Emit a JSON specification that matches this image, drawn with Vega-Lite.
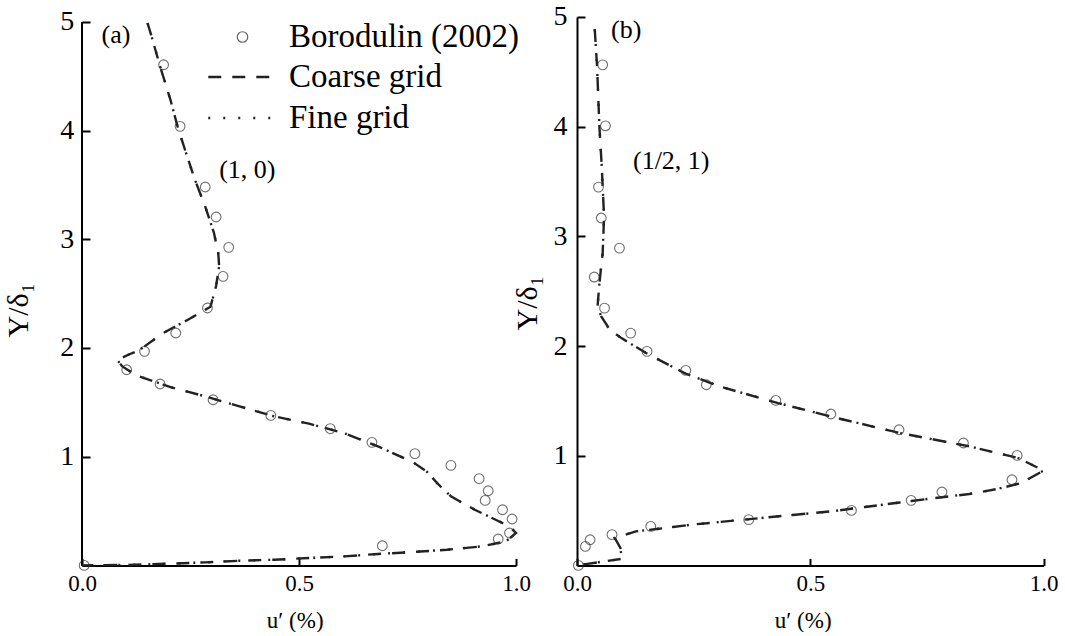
{
  "$schema": "https://vega.github.io/schema/vega-lite/v6.json",
  "padding": {"left": 3, "top": 3, "right": 0, "bottom": 0},
  "background": "white",
  "spacing": 61,
  "bounds": "flush",
  "datasets": {
    "ptsA": [
      {"u":0.188,"Y":4.606},{"u":0.226,"Y":4.039},{"u":0.284,"Y":3.481},{"u":0.309,"Y":3.205},
      {"u":0.338,"Y":2.926},{"u":0.325,"Y":2.659},{"u":0.289,"Y":2.368},{"u":0.216,"Y":2.138},
      {"u":0.144,"Y":1.969},{"u":0.103,"Y":1.800},{"u":0.180,"Y":1.669},{"u":0.302,"Y":1.524},
      {"u":0.435,"Y":1.380},{"u":0.572,"Y":1.258},{"u":0.668,"Y":1.132},{"u":0.767,"Y":1.028},
      {"u":0.850,"Y":0.920},{"u":0.915,"Y":0.798},{"u":0.936,"Y":0.687},{"u":0.929,"Y":0.598},
      {"u":0.969,"Y":0.512},{"u":0.991,"Y":0.427},{"u":0.985,"Y":0.298},{"u":0.959,"Y":0.243},
      {"u":0.692,"Y":0.181},{"u":0.005,"Y":0.0}
    ],
    "lnA": [
      {"series":"Coarse grid","i":0,"u":0.151,"Y":4.99},{"series":"Coarse grid","i":1,"u":0.160,"Y":4.87},
      {"series":"Coarse grid","i":2,"u":0.180,"Y":4.59},{"series":"Coarse grid","i":3,"u":0.204,"Y":4.28},
      {"series":"Coarse grid","i":4,"u":0.220,"Y":4.04},{"series":"Coarse grid","i":5,"u":0.240,"Y":3.79},
      {"series":"Coarse grid","i":6,"u":0.260,"Y":3.55},{"series":"Coarse grid","i":7,"u":0.284,"Y":3.30},
      {"series":"Coarse grid","i":8,"u":0.304,"Y":3.06},{"series":"Coarse grid","i":9,"u":0.314,"Y":2.87},
      {"series":"Coarse grid","i":10,"u":0.316,"Y":2.75},{"series":"Coarse grid","i":11,"u":0.309,"Y":2.57},
      {"series":"Coarse grid","i":12,"u":0.296,"Y":2.38},{"series":"Coarse grid","i":13,"u":0.244,"Y":2.26},
      {"series":"Coarse grid","i":14,"u":0.188,"Y":2.14},{"series":"Coarse grid","i":15,"u":0.132,"Y":1.98},
      {"series":"Coarse grid","i":16,"u":0.108,"Y":1.94},{"series":"Coarse grid","i":17,"u":0.081,"Y":1.89},
      {"series":"Coarse grid","i":18,"u":0.093,"Y":1.83},{"series":"Coarse grid","i":19,"u":0.124,"Y":1.75},
      {"series":"Coarse grid","i":20,"u":0.204,"Y":1.64},{"series":"Coarse grid","i":21,"u":0.284,"Y":1.555},
      {"series":"Coarse grid","i":22,"u":0.363,"Y":1.463},{"series":"Coarse grid","i":23,"u":0.443,"Y":1.371},
      {"series":"Coarse grid","i":24,"u":0.523,"Y":1.304},{"series":"Coarse grid","i":25,"u":0.603,"Y":1.218},
      {"series":"Coarse grid","i":26,"u":0.682,"Y":1.095},{"series":"Coarse grid","i":27,"u":0.762,"Y":0.951},
      {"series":"Coarse grid","i":28,"u":0.794,"Y":0.865},{"series":"Coarse grid","i":29,"u":0.818,"Y":0.758},
      {"series":"Coarse grid","i":30,"u":0.850,"Y":0.635},{"series":"Coarse grid","i":31,"u":0.905,"Y":0.512},
      {"series":"Coarse grid","i":32,"u":0.953,"Y":0.420},{"series":"Coarse grid","i":33,"u":0.985,"Y":0.359},
      {"series":"Coarse grid","i":34,"u":1.0,"Y":0.298},{"series":"Coarse grid","i":35,"u":0.977,"Y":0.221},
      {"series":"Coarse grid","i":36,"u":0.921,"Y":0.175},{"series":"Coarse grid","i":37,"u":0.841,"Y":0.144},
      {"series":"Coarse grid","i":38,"u":0.762,"Y":0.123},{"series":"Coarse grid","i":39,"u":0.682,"Y":0.105},
      {"series":"Coarse grid","i":40,"u":0.603,"Y":0.083},{"series":"Coarse grid","i":41,"u":0.523,"Y":0.068},
      {"series":"Coarse grid","i":42,"u":0.443,"Y":0.052},{"series":"Coarse grid","i":43,"u":0.363,"Y":0.043},
      {"series":"Coarse grid","i":44,"u":0.284,"Y":0.028},{"series":"Coarse grid","i":45,"u":0.204,"Y":0.016},
      {"series":"Coarse grid","i":46,"u":0.124,"Y":0.006},{"series":"Coarse grid","i":47,"u":0.0,"Y":0.0},
      {"series":"Fine grid","i":0,"u":0.151,"Y":4.99},{"series":"Fine grid","i":1,"u":0.160,"Y":4.87},
      {"series":"Fine grid","i":2,"u":0.180,"Y":4.59},{"series":"Fine grid","i":3,"u":0.204,"Y":4.28},
      {"series":"Fine grid","i":4,"u":0.220,"Y":4.04},{"series":"Fine grid","i":5,"u":0.240,"Y":3.79},
      {"series":"Fine grid","i":6,"u":0.260,"Y":3.55},{"series":"Fine grid","i":7,"u":0.284,"Y":3.30},
      {"series":"Fine grid","i":8,"u":0.304,"Y":3.06},{"series":"Fine grid","i":9,"u":0.314,"Y":2.87},
      {"series":"Fine grid","i":10,"u":0.316,"Y":2.75},{"series":"Fine grid","i":11,"u":0.309,"Y":2.57},
      {"series":"Fine grid","i":12,"u":0.296,"Y":2.38},{"series":"Fine grid","i":13,"u":0.244,"Y":2.26},
      {"series":"Fine grid","i":14,"u":0.188,"Y":2.14},{"series":"Fine grid","i":15,"u":0.132,"Y":1.98},
      {"series":"Fine grid","i":16,"u":0.108,"Y":1.94},{"series":"Fine grid","i":17,"u":0.081,"Y":1.89},
      {"series":"Fine grid","i":18,"u":0.093,"Y":1.83},{"series":"Fine grid","i":19,"u":0.124,"Y":1.75},
      {"series":"Fine grid","i":20,"u":0.204,"Y":1.64},{"series":"Fine grid","i":21,"u":0.284,"Y":1.555},
      {"series":"Fine grid","i":22,"u":0.363,"Y":1.463},{"series":"Fine grid","i":23,"u":0.443,"Y":1.371},
      {"series":"Fine grid","i":24,"u":0.523,"Y":1.304},{"series":"Fine grid","i":25,"u":0.603,"Y":1.218},
      {"series":"Fine grid","i":26,"u":0.682,"Y":1.095},{"series":"Fine grid","i":27,"u":0.762,"Y":0.951},
      {"series":"Fine grid","i":28,"u":0.794,"Y":0.865},{"series":"Fine grid","i":29,"u":0.818,"Y":0.758},
      {"series":"Fine grid","i":30,"u":0.850,"Y":0.635},{"series":"Fine grid","i":31,"u":0.905,"Y":0.512},
      {"series":"Fine grid","i":32,"u":0.953,"Y":0.420},{"series":"Fine grid","i":33,"u":0.985,"Y":0.359},
      {"series":"Fine grid","i":34,"u":1.0,"Y":0.298},{"series":"Fine grid","i":35,"u":0.977,"Y":0.221},
      {"series":"Fine grid","i":36,"u":0.921,"Y":0.175},{"series":"Fine grid","i":37,"u":0.841,"Y":0.144},
      {"series":"Fine grid","i":38,"u":0.762,"Y":0.123},{"series":"Fine grid","i":39,"u":0.682,"Y":0.105},
      {"series":"Fine grid","i":40,"u":0.603,"Y":0.083},{"series":"Fine grid","i":41,"u":0.523,"Y":0.068},
      {"series":"Fine grid","i":42,"u":0.443,"Y":0.052},{"series":"Fine grid","i":43,"u":0.363,"Y":0.043},
      {"series":"Fine grid","i":44,"u":0.284,"Y":0.028},{"series":"Fine grid","i":45,"u":0.204,"Y":0.016},
      {"series":"Fine grid","i":46,"u":0.124,"Y":0.006},{"series":"Fine grid","i":47,"u":0.0,"Y":0.0}
    ],
    "txtA": [{"u":0.045,"Y":4.882,"t":"(a)"},{"u":0.316,"Y":3.633,"t":"(1, 0)"}],
    "ptsB": [
      {"u":0.055,"Y":4.564},{"u":0.061,"Y":4.008},{"u":0.046,"Y":3.449},{"u":0.052,"Y":3.167},
      {"u":0.091,"Y":2.893},{"u":0.037,"Y":2.629},{"u":0.059,"Y":2.346},{"u":0.115,"Y":2.118},
      {"u":0.150,"Y":1.951},{"u":0.233,"Y":1.778},{"u":0.277,"Y":1.647},{"u":0.426,"Y":1.504},
      {"u":0.544,"Y":1.380},{"u":0.690,"Y":1.237},{"u":0.828,"Y":1.116},{"u":0.943,"Y":1.003},
      {"u":0.932,"Y":0.781},{"u":0.782,"Y":0.669},{"u":0.716,"Y":0.593},{"u":0.588,"Y":0.501},
      {"u":0.368,"Y":0.417},{"u":0.158,"Y":0.356},{"u":0.075,"Y":0.280},{"u":0.028,"Y":0.234},
      {"u":0.018,"Y":0.173},{"u":0.003,"Y":0.0}
    ],
    "lnB": [
      {"series":"Coarse grid","i":0,"u":0.038,"Y":4.89},{"series":"Coarse grid","i":1,"u":0.043,"Y":4.55},
      {"series":"Coarse grid","i":2,"u":0.048,"Y":4.00},{"series":"Coarse grid","i":3,"u":0.053,"Y":3.64},
      {"series":"Coarse grid","i":4,"u":0.058,"Y":3.18},{"series":"Coarse grid","i":5,"u":0.055,"Y":2.85},
      {"series":"Coarse grid","i":6,"u":0.048,"Y":2.57},{"series":"Coarse grid","i":7,"u":0.044,"Y":2.36},
      {"series":"Coarse grid","i":8,"u":0.052,"Y":2.27},{"series":"Coarse grid","i":9,"u":0.070,"Y":2.15},
      {"series":"Coarse grid","i":10,"u":0.096,"Y":2.07},{"series":"Coarse grid","i":11,"u":0.148,"Y":1.936},
      {"series":"Coarse grid","i":12,"u":0.230,"Y":1.754},{"series":"Coarse grid","i":13,"u":0.305,"Y":1.632},
      {"series":"Coarse grid","i":14,"u":0.431,"Y":1.480},{"series":"Coarse grid","i":15,"u":0.543,"Y":1.358},
      {"series":"Coarse grid","i":16,"u":0.692,"Y":1.207},{"series":"Coarse grid","i":17,"u":0.841,"Y":1.085},
      {"series":"Coarse grid","i":18,"u":0.945,"Y":0.979},{"series":"Coarse grid","i":19,"u":1.0,"Y":0.865},
      {"series":"Coarse grid","i":20,"u":0.952,"Y":0.751},{"series":"Coarse grid","i":21,"u":0.900,"Y":0.696},
      {"series":"Coarse grid","i":22,"u":0.841,"Y":0.651},{"series":"Coarse grid","i":23,"u":0.766,"Y":0.614},
      {"series":"Coarse grid","i":24,"u":0.692,"Y":0.574},{"series":"Coarse grid","i":25,"u":0.617,"Y":0.532},
      {"series":"Coarse grid","i":26,"u":0.543,"Y":0.492},{"series":"Coarse grid","i":27,"u":0.468,"Y":0.462},
      {"series":"Coarse grid","i":28,"u":0.394,"Y":0.432},{"series":"Coarse grid","i":29,"u":0.319,"Y":0.401},
      {"series":"Coarse grid","i":30,"u":0.245,"Y":0.371},{"series":"Coarse grid","i":31,"u":0.171,"Y":0.332},
      {"series":"Coarse grid","i":32,"u":0.126,"Y":0.310},{"series":"Coarse grid","i":33,"u":0.081,"Y":0.250},
      {"series":"Coarse grid","i":34,"u":0.093,"Y":0.159},{"series":"Coarse grid","i":35,"u":0.096,"Y":0.06},
      {"series":"Coarse grid","i":36,"u":0.0,"Y":0.0},
      {"series":"Fine grid","i":0,"u":0.038,"Y":4.89},{"series":"Fine grid","i":1,"u":0.043,"Y":4.55},
      {"series":"Fine grid","i":2,"u":0.048,"Y":4.00},{"series":"Fine grid","i":3,"u":0.053,"Y":3.64},
      {"series":"Fine grid","i":4,"u":0.058,"Y":3.18},{"series":"Fine grid","i":5,"u":0.055,"Y":2.85},
      {"series":"Fine grid","i":6,"u":0.048,"Y":2.57},{"series":"Fine grid","i":7,"u":0.044,"Y":2.36},
      {"series":"Fine grid","i":8,"u":0.052,"Y":2.27},{"series":"Fine grid","i":9,"u":0.070,"Y":2.15},
      {"series":"Fine grid","i":10,"u":0.096,"Y":2.07},{"series":"Fine grid","i":11,"u":0.148,"Y":1.936},
      {"series":"Fine grid","i":12,"u":0.230,"Y":1.754},{"series":"Fine grid","i":13,"u":0.305,"Y":1.632},
      {"series":"Fine grid","i":14,"u":0.431,"Y":1.480},{"series":"Fine grid","i":15,"u":0.543,"Y":1.358},
      {"series":"Fine grid","i":16,"u":0.692,"Y":1.207},{"series":"Fine grid","i":17,"u":0.841,"Y":1.085},
      {"series":"Fine grid","i":18,"u":0.945,"Y":0.979},{"series":"Fine grid","i":19,"u":1.0,"Y":0.865},
      {"series":"Fine grid","i":20,"u":0.952,"Y":0.751},{"series":"Fine grid","i":21,"u":0.900,"Y":0.696},
      {"series":"Fine grid","i":22,"u":0.841,"Y":0.651},{"series":"Fine grid","i":23,"u":0.766,"Y":0.614},
      {"series":"Fine grid","i":24,"u":0.692,"Y":0.574},{"series":"Fine grid","i":25,"u":0.617,"Y":0.532},
      {"series":"Fine grid","i":26,"u":0.543,"Y":0.492},{"series":"Fine grid","i":27,"u":0.468,"Y":0.462},
      {"series":"Fine grid","i":28,"u":0.394,"Y":0.432},{"series":"Fine grid","i":29,"u":0.319,"Y":0.401},
      {"series":"Fine grid","i":30,"u":0.245,"Y":0.371},{"series":"Fine grid","i":31,"u":0.171,"Y":0.332},
      {"series":"Fine grid","i":32,"u":0.126,"Y":0.310},{"series":"Fine grid","i":33,"u":0.081,"Y":0.250},
      {"series":"Fine grid","i":34,"u":0.093,"Y":0.159},{"series":"Fine grid","i":35,"u":0.096,"Y":0.06},
      {"series":"Fine grid","i":36,"u":0.0,"Y":0.0}
    ],
    "txtB": [{"u":0.073,"Y":4.883,"t":"(b)"},{"u":0.120,"Y":3.691,"t":"(1/2, 1)"}]
  },
  "hconcat": [
    {
      "width": 434,
      "height": 548.4,
      "layer": [
        {
          "data": {"name": "txtA"},
          "mark": {"type": "rule", "color": "black", "strokeWidth": 2},
          "encoding": {
            "x": {"datum": 0, "type": "quantitative"},
            "y": {"datum": 0, "type": "quantitative"},
            "y2": {"datum": 5}
          }
        },
        {
          "data": {"name": "lnA"},
          "mark": {"type": "line", "color": "#222", "strokeWidth": 2.4},
          "encoding": {
            "x": {"field": "u", "type": "quantitative", "scale": {"domain": [0, 1], "nice": false, "zero": false},
              "axis": {"values": [0, 0.5, 1], "format": ".1f", "labelFlush": false, "labelPadding": 14, "title": "u′ (%)", "titleX": 212.7, "titleY": 61.8, "titleBaseline": "alphabetic", "titleAlign": "center", "titleAnchor": null}},
            "y": {"field": "Y", "type": "quantitative", "scale": {"domain": [0, 5.045], "nice": false, "zero": false},
              "axis": {"values": [1, 2, 3, 4, 5], "format": "d", "domain": false, "labelPadding": 16.3, "title": "Y/δ₁", "titleX": -54.3, "titleY": 292.7, "titleBaseline": "alphabetic", "titleAlign": "center", "titleAngle": -90, "titleAnchor": null}},
            "order": {"field": "i", "type": "quantitative"},
            "strokeDash": {
              "field": "series", "type": "nominal",
              "scale": {"domain": ["Coarse grid", "Fine grid"], "range": [[13, 11], [2, 13]]},
              "legend": {
                "title": null, "orient": "none", "legendX": 144, "legendY": 43.5, "padding": 0,
                "labelFont": "Liberation Serif", "labelFontSize": 33, "labelColor": "black", "labelLimit": 400,
                "labelOffset": 30, "rowPadding": 7,
                "symbolSize": 521, "symbolStrokeWidth": 2.5, "symbolType": "M-3,0H3",
                "symbolStrokeColor": "#222", "symbolFillColor": "transparent"
              }
            }
          }
        },
        {
          "data": {"name": "ptsA"},
          "mark": {"type": "point", "shape": "circle", "filled": false, "size": 95, "stroke": "#333", "strokeWidth": 1.1},
          "encoding": {
            "x": {"field": "u", "type": "quantitative"},
            "y": {"field": "Y", "type": "quantitative"},
            "shape": {
              "datum": "Borodulin (2002)",
              "scale": {"domain": ["Borodulin (2002)"], "range": ["circle"]},
              "legend": {
                "title": null, "orient": "none", "legendX": 144, "legendY": 3.5, "padding": 0,
                "labelFont": "Liberation Serif", "labelFontSize": 33, "labelColor": "black", "labelLimit": 400,
                "labelOffset": 30, "symbolSize": 110, "symbolStrokeWidth": 1.2,
                "symbolStrokeColor": "#222", "symbolFillColor": "transparent", "symbolType": "circle"
              }
            }
          }
        },
        {
          "data": {"name": "txtA"},
          "mark": {"type": "text", "align": "left", "baseline": "middle", "font": "Liberation Serif", "fontSize": 26, "color": "black"},
          "encoding": {
            "x": {"field": "u", "type": "quantitative"},
            "y": {"field": "Y", "type": "quantitative"},
            "text": {"field": "t"}
          }
        }
      ]
    },
    {
      "width": 466.7,
      "height": 548.4,
      "layer": [
        {
          "data": {"name": "lnB"},
          "mark": {"type": "line", "color": "#222", "strokeWidth": 2.4},
          "encoding": {
            "x": {"field": "u", "type": "quantitative", "scale": {"domain": [0, 1], "nice": false, "zero": false},
              "axis": {"values": [0, 0.5, 1], "format": ".1f", "labelFlush": false, "labelPadding": 14, "title": "u′ (%)", "titleX": 225.7, "titleY": 61.8, "titleBaseline": "alphabetic", "titleAlign": "center", "titleAnchor": null}},
            "y": {"field": "Y", "type": "quantitative", "scale": {"domain": [0, 5], "nice": false, "zero": false},
              "axis": {"values": [1, 2, 3, 4, 5], "format": "d", "labelPadding": 18, "title": "Y/δ₁", "titleX": -40.3, "titleY": 285.7, "titleBaseline": "alphabetic", "titleAlign": "center", "titleAngle": -90, "titleAnchor": null}},
            "order": {"field": "i", "type": "quantitative"},
            "strokeDash": {
              "field": "series", "type": "nominal",
              "scale": {"domain": ["Coarse grid", "Fine grid"], "range": [[13, 11], [2, 13]]},
              "legend": null
            }
          }
        },
        {
          "data": {"name": "ptsB"},
          "mark": {"type": "point", "shape": "circle", "filled": false, "size": 95, "stroke": "#333", "strokeWidth": 1.1},
          "encoding": {
            "x": {"field": "u", "type": "quantitative"},
            "y": {"field": "Y", "type": "quantitative"}
          }
        },
        {
          "data": {"name": "txtB"},
          "mark": {"type": "text", "align": "left", "baseline": "middle", "font": "Liberation Serif", "fontSize": 26, "color": "black"},
          "encoding": {
            "x": {"field": "u", "type": "quantitative"},
            "y": {"field": "Y", "type": "quantitative"},
            "text": {"field": "t"}
          }
        }
      ]
    }
  ],
  "resolve": {
    "scale": {"strokeDash": "independent", "shape": "independent"},
    "legend": {"strokeDash": "independent", "shape": "independent"}
  },
  "config": {
    "font": "Liberation Serif",
    "view": {"stroke": null},
    "axis": {
      "grid": false,
      "domainColor": "black",
      "domainWidth": 2,
      "tickColor": "black",
      "tickWidth": 2,
      "labelFont": "Liberation Serif",
      "labelColor": "black",
      "titleFont": "Liberation Serif",
      "titleColor": "black",
      "titleFontWeight": "normal"
    },
    "axisX": {"labelFontSize": 23, "titleFontSize": 23, "tickSize": -7},
    "axisY": {"labelFontSize": 28, "titleFontSize": 30, "tickSize": -8}
  }
}
